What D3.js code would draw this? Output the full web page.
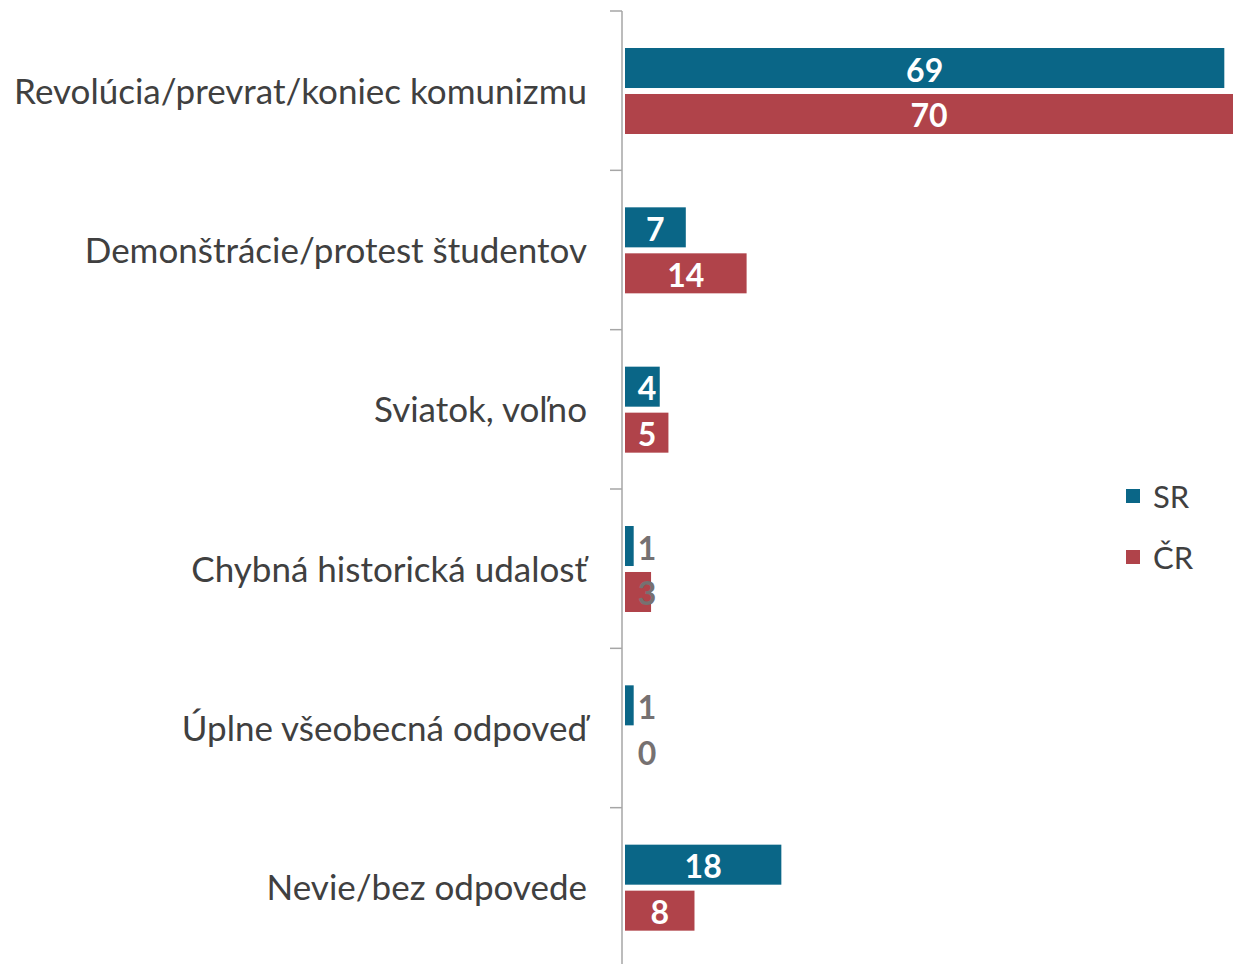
<!DOCTYPE html>
<html>
<head>
<meta charset="utf-8">
<script src="https://cdnjs.cloudflare.com/ajax/libs/d3/7.8.5/d3.min.js"></script>
<style>
  body { margin: 0; background: #fff; }
  svg { display: block; }
</style>
</head>
<body>
<div class="stage"></div>
<script>
// data
var categories = [
  "Revolúcia/prevrat/koniec komunizmu",
  "Demonštrácie/protest študentov",
  "Sviatok, voľno",
  "Chybná historická udalosť",
  "Úplne všeobecná odpoveď",
  "Nevie/bez odpovede"
];
var series = ["SR", "ČR"];
var srValues = [69, 7, 4, 1, 1, 18];
var crValues = [70, 14, 5, 3, 0, 8];
var colors = ["#0a6687", "#b0434a"];

var width = 1233, height = 964;
var axisX = 622, barX = 625;

var svg = d3.select(".stage").append("svg")
  .attr("width", width)
  .attr("height", height);

var y0 = d3.scaleBand()
  .domain(categories)
  .range([11, 967]);

var y1 = d3.scaleBand()
  .domain(series)
  .range([37, 123])
  .paddingInner(0.13);

var x = d3.scaleLinear()
  .domain([0, 70])
  .range([0, 608]);

var color = d3.scaleOrdinal().domain(series).range(colors);

var rows = categories.map(function(c, i) {
  return { cat: c, vals: [
    { s: "SR", v: srValues[i] },
    { s: "ČR", v: crValues[i] }
  ]};
});

// category axis: line + ticks at band edges
var ax = svg.append("g")
  .attr("transform", "translate(" + axisX + ",0)");
ax.append("line")
  .attr("x1", 0).attr("x2", 0)
  .attr("y1", 11).attr("y2", height)
  .attr("stroke", "#a6a6a6")
  .attr("stroke-width", 1.5);
ax.selectAll(".edge")
  .data(categories)
  .enter().append("line")
  .attr("class", "edge")
  .attr("x1", -12).attr("x2", 0)
  .attr("y1", function(d) { return y0(d); })
  .attr("y2", function(d) { return y0(d); })
  .attr("stroke", "#a6a6a6")
  .attr("stroke-width", 1.5);

svg.selectAll(".catlabel")
  .data(categories)
  .enter().append("text")
  .attr("class", "catlabel")
  .attr("x", 587)
  .attr("y", function(d) { return y0(d) + y0.bandwidth() / 2 - 1; })
  .attr("text-anchor", "end")
  .attr("dominant-baseline", "central")
  .attr("fill", "#404040")
  .attr("font-family", "Lato, sans-serif")
  .attr("font-size", "35px")
  .text(function(d) { return d; });

var grp = svg.selectAll(".cat")
  .data(rows)
  .enter().append("g")
  .attr("class", "cat")
  .attr("transform", function(d) { return "translate(" + barX + "," + y0(d.cat) + ")"; });

grp.selectAll("rect")
  .data(function(d) { return d.vals; })
  .enter().append("rect")
  .attr("x", 0)
  .attr("y", function(d) { return y1(d.s); })
  .attr("width", function(d) { return x(d.v); })
  .attr("height", y1.bandwidth())
  .attr("fill", function(d) { return color(d.s); });

grp.selectAll(".val")
  .data(function(d) { return d.vals; })
  .enter().append("text")
  .attr("class", "val")
  .attr("x", function(d) { return Math.max(x(d.v) / 2, 22); })
  .attr("y", function(d) { return y1(d.s) + y1.bandwidth() / 2 + 1; })
  .attr("text-anchor", "middle")
  .attr("dominant-baseline", "central")
  .attr("fill", function(d) { return d.v >= 4 ? "#ffffff" : "#767171"; })
  .attr("font-family", "Lato, sans-serif")
  .attr("font-weight", "bold")
  .attr("font-size", "32px")
  .text(function(d) { return d.v; });

// legend
var leg = svg.selectAll(".leg")
  .data(series)
  .enter().append("g")
  .attr("class", "leg")
  .attr("transform", function(d, i) { return "translate(1126," + (489 + i * 61) + ")"; });
leg.append("rect")
  .attr("width", 14).attr("height", 14)
  .attr("fill", function(d) { return color(d); });
leg.append("text")
  .attr("x", 27)
  .attr("y", 7)
  .attr("dominant-baseline", "central")
  .attr("fill", "#404040")
  .attr("font-family", "Lato, sans-serif")
  .attr("font-size", "31px")
  .text(function(d) { return d; });
</script>
</body>
</html>
